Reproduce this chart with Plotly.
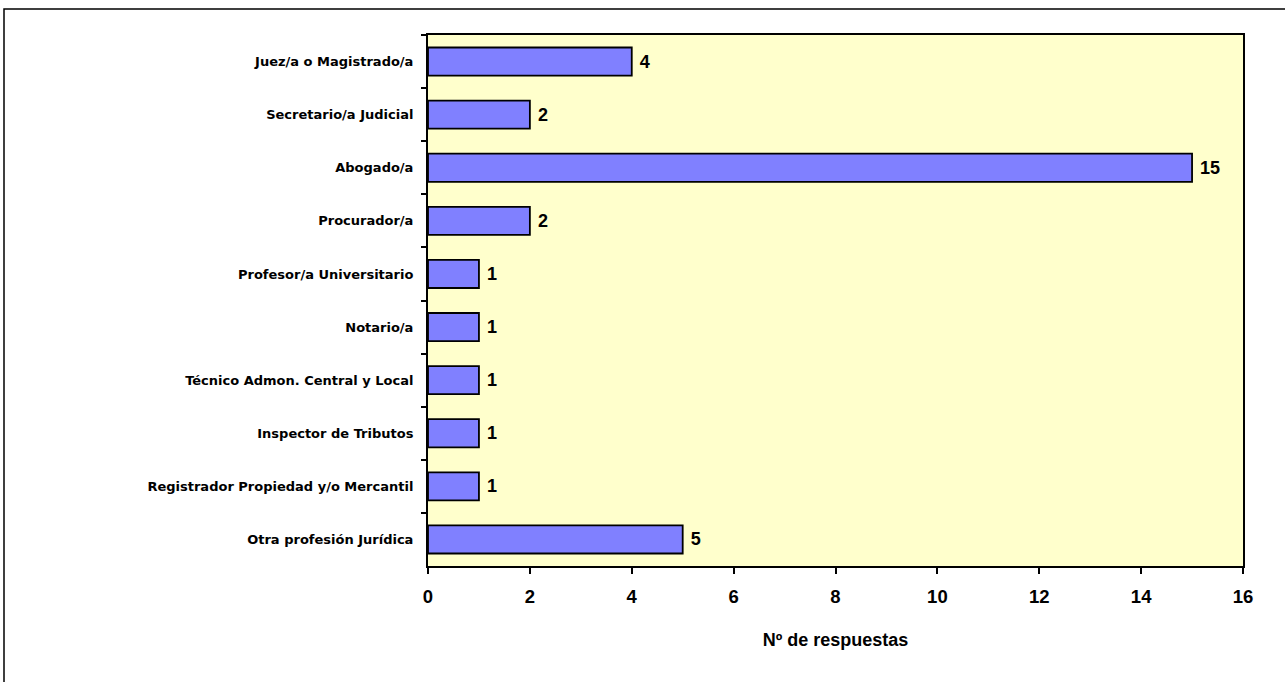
import plotly.graph_objects as go

# Categories (top to bottom) and number of responses
profesiones = ['Juez/a o Magistrado/a', 'Secretario/a Judicial', 'Abogado/a', 'Procurador/a',
               'Profesor/a Universitario', 'Notario/a', 'Técnico Admon. Central y Local',
               'Inspector de Tributos', 'Registrador Propiedad y/o Mercantil', 'Otra profesión Jurídica']
respuestas = [4, 2, 15, 2, 1, 1, 1, 1, 1, 5]
x_ticks = [0, 2, 4, 6, 8, 10, 12, 14, 16]

bold = dict(family='Liberation Sans, Arial, sans-serif', color='black', weight='bold')
wide_bold = dict(family='DejaVu Sans, Verdana, sans-serif', color='black', weight='bold')

trace = go.Bar(x=respuestas, y=profesiones, orientation='h',
               marker=dict(color='#8080FF', line=dict(color='black', width=1.8)),
               text=respuestas, texttemplate=' %{text}', textposition='outside', cliponaxis=False,
               textfont=dict(size=18, **bold), hoverinfo='skip')

layout = go.Layout(
    width=1285, height=682,
    margin=dict(l=428, r=42, t=35, b=116),
    paper_bgcolor='white', plot_bgcolor='#FFFFCC',
    bargap=0.47, showlegend=False,
    xaxis=dict(range=[0, 16], tickvals=x_ticks, showgrid=False, zeroline=False,
               showline=True, linecolor='black', linewidth=2, mirror=True,
               ticks='outside', ticklen=6, tickwidth=2, tickcolor='black',
               tickfont=dict(size=18.5, **bold), ticklabelstandoff=7,
               title=dict(text='Nº de respuestas', font=dict(size=18, **bold), standoff=27)),
    yaxis=dict(autorange='reversed', showgrid=False, zeroline=False,
               showline=True, linecolor='black', linewidth=2, mirror=True,
               ticks='outside', ticklen=5, tickwidth=2, tickcolor='black', tickson='boundaries',
               tickfont=dict(size=13, **wide_bold), ticklabelstandoff=10),
    shapes=[dict(type='rect', xref='paper', yref='paper',
                 x0=(4 - 428) / 815, x1=(1300 - 428) / 815,
                 y0=-0.5, y1=1 + 26 / 531,
                 line=dict(color='black', width=1.5), fillcolor='rgba(0,0,0,0)', layer='below')],
)

fig = go.Figure(data=[trace], layout=layout)
fig.write_html('out.html', config={'displayModeBar': False},
               post_script="document.body.style.margin='0';")
